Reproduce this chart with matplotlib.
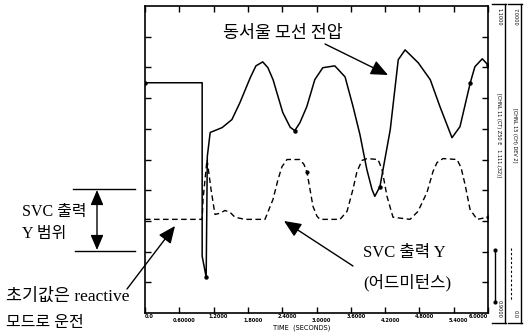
import matplotlib
matplotlib.use("Agg")
import matplotlib.pyplot as plt
from matplotlib.lines import Line2D

# ---- data (time in s, values in chart divisions) ----
t_v = [0.0, 1.0, 1.0, 1.07, 1.09, 1.14, 1.35, 1.52, 1.66, 1.84, 1.94, 2.06, 2.15,
       2.24, 2.41, 2.54, 2.62, 2.71, 2.83, 2.97, 3.11, 3.32, 3.50, 3.64, 3.76, 3.88,
       3.97, 4.02, 4.11, 4.29, 4.43, 4.55, 4.78, 4.99, 5.16, 5.37, 5.51, 5.69, 5.77,
       5.90, 6.00]
v_bus = [7.5, 7.5, 1.85, 1.17, 5.10, 5.88, 6.04, 6.30, 6.85, 7.66, 8.05, 8.18, 7.99,
         7.60, 6.53, 6.05, 5.94, 6.20, 6.72, 7.60, 7.99, 8.05, 7.69, 6.72, 5.81, 4.68,
         4.03, 3.80, 4.12, 5.97, 8.25, 8.57, 8.15, 7.60, 6.72, 5.71, 6.07, 7.50, 8.02,
         8.28, 8.08]

t_y = [0.0, 1.0, 1.015, 1.085, 1.155, 1.224, 1.312, 1.399, 1.487, 1.574, 1.749, 2.099,
       2.239, 2.327, 2.397, 2.484, 2.711, 2.781, 2.834, 2.939, 3.009, 3.061, 3.411,
       3.534, 3.638, 3.708, 3.796, 3.883, 4.076, 4.146, 4.233, 4.338, 4.636, 4.776,
       4.933, 5.038, 5.108, 5.213, 5.458, 5.528, 5.598, 5.685, 5.808, 6.0]
y_svc = [3.05, 3.05, 3.70, 5.00, 4.03, 3.21, 3.25, 3.34, 3.28, 3.12, 3.05, 3.05,
         3.70, 4.35, 4.77, 5.00, 5.00, 4.84, 4.58, 3.47, 3.15, 3.05, 3.05,
         3.31, 4.03, 4.61, 4.97, 5.03, 5.00, 4.68, 3.80, 3.12, 3.05, 3.31,
         3.93, 4.61, 4.90, 5.03, 5.00, 4.74, 4.19, 3.38, 3.05, 3.12]

x_ticks = [0.0, 0.6, 1.2, 1.8, 2.4, 3.0, 3.6, 4.2, 4.8, 5.4, 6.0]
x_tick_labels = ["0.0", "0.60000", "1.2000", "1.8000", "2.4000", "3.0000",
                 "3.6000", "4.2000", "4.8000", "5.4000", "6.0000"]
y_ticks = [1, 2, 3, 4, 5, 6, 7, 8, 9]

W, H = 526, 335
fig = plt.figure(figsize=(W / 100, H / 100), dpi=100)
fig.patch.set_facecolor("white")


def fx(px):
    return px / W


def fy(py):
    return 1 - py / H


ax = fig.add_axes([fx(145), fy(313), (488 - 145) / W, (313 - 6) / H])
ax.set_xlim(0, 6)
ax.set_ylim(0, 10)
ax.plot(t_v, v_bus, color="black", lw=1.1)
ax.plot(t_y, y_svc, color="black", lw=1.0, ls=(0, (4, 2.5)))
# plot markers
ax.plot(t_v, v_bus, ls="none", marker="o", ms=2.2, color="black",
        markevery=[0, 3, 16, 28, 37, 40])
ax.plot(t_y, y_svc, ls="none", marker="o", ms=2.0, color="black",
        markevery=[18, 43])

ax.set_xticks(x_ticks)
ax.set_yticks(y_ticks)
ax.set_xticklabels([])
ax.set_yticklabels([])
ax.tick_params(direction="in", length=4, width=1, top=True, right=True)
for s in ax.spines.values():
    s.set_linewidth(1.2)

for i, (t, lab) in enumerate(zip(x_ticks, x_tick_labels)):
    yy = 317 if i % 2 == 0 else 321
    ha = "center"
    xp = 145 + t / 6 * 343 + 5
    if i == 0:
        xp = 145
        ha = "left"
    if i == len(x_ticks) - 1:
        xp = 488
        ha = "right"
    fig.text(fx(xp), fy(yy), lab, fontsize=3.6, fontweight="bold", ha=ha, va="center")
fig.text(fx(302), fy(328), "TIME  (SECONDS)", fontsize=4.8, ha="center", va="center")

kfont = ["Noto Sans CJK KR", "DejaVu Sans"]
sfont = ["Liberation Serif", "Noto Sans CJK KR"]

fig.text(fx(223), fy(33), "동서울 모선 전압", fontsize=12.5, family=kfont,
         ha="left", va="center")
fig.text(fx(363), fy(253), "SVC 출력 Y", fontsize=12, family=sfont,
         ha="left", va="center")
fig.text(fx(363), fy(283), "(어드미턴스)", fontsize=12, family=sfont,
         ha="left", va="center")
fig.text(fx(22), fy(212), "SVC 출력", fontsize=11.5, family=sfont,
         ha="left", va="center")
fig.text(fx(22), fy(234), "Y 범위", fontsize=11.5, family=sfont,
         ha="left", va="center")
fig.text(fx(6), fy(297), "초기값은 reactive", fontsize=12.5, family=sfont,
         ha="left", va="center")
fig.text(fx(6), fy(323), "모드로 운전", fontsize=11.5, family=sfont,
         ha="left", va="center")


def arrow(tail, tip, style="-|>", hl=0.8, hw=0.35):
    ax.annotate("", xy=(fx(tip[0]), fy(tip[1])), xytext=(fx(tail[0]), fy(tail[1])),
                xycoords="figure fraction", textcoords="figure fraction",
                annotation_clip=False,
                arrowprops=dict(arrowstyle=f"{style},head_length={hl},head_width={hw}",
                                mutation_scale=13, color="black", lw=1.0,
                                shrinkA=0, shrinkB=0))


arrow((325, 44), (388, 75))
arrow((353, 266), (284, 221))
arrow((127, 289), (175, 226))
arrow((97, 250), (97, 190), style="<|-|>", hl=0.7, hw=0.3)

for (x0, x1, yy) in [(73, 135, 189), (75, 135, 251)]:
    fig.add_artist(Line2D([fx(x0), fx(x1)], [fy(yy), fy(yy)], color="black", lw=1.0))

# right-hand scale rulers
for xl, top, mid, bot in [(505, "1.1000", "[CHNL 11 (CT) Z50 E   1.111.(32)]", "0.9000"),
                          (521, "7.0000", "[CHNL 15 (CH) DEV 2]", "0.0")]:
    fig.add_artist(Line2D([fx(xl), fx(xl)], [fy(4), fy(323)], color="black", lw=1.0))
    for yy in (4, 323):
        fig.add_artist(Line2D([fx(xl - 13), fx(xl + 1)], [fy(yy), fy(yy)],
                              color="black", lw=1.0))
    fig.text(fx(xl - 6), fy(8), top, fontsize=3.6, rotation=-90, ha="center", va="top")
    fig.text(fx(xl - 6), fy(135), mid, fontsize=3.6, rotation=-90, ha="center", va="center")
    fig.text(fx(xl - 6), fy(318), bot, fontsize=3.6, rotation=-90, ha="center", va="bottom")

# legend sample marks on the rulers
fig.add_artist(Line2D([fx(495), fx(495)], [fy(250), fy(302)], color="black", lw=1.0,
                      marker="o", ms=2))
fig.add_artist(Line2D([fx(511), fx(511)], [fy(248), fy(300)], color="black", lw=0.8,
                      ls=(0, (2, 2))))

fig.savefig("out.png", dpi=100, facecolor="white")
